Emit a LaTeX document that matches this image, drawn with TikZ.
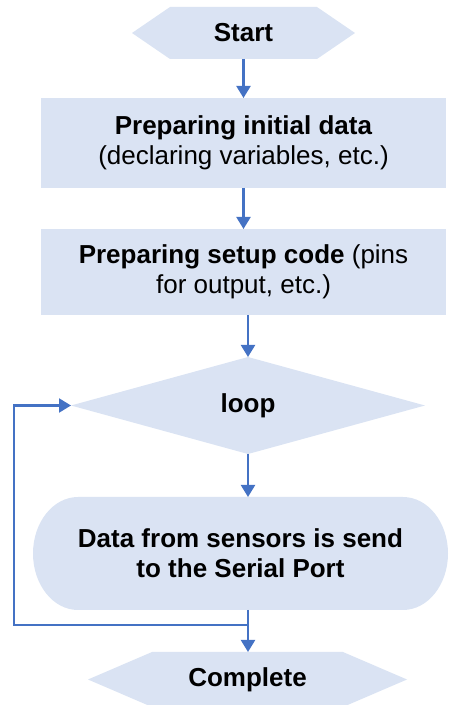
\documentclass[tikz,border=0pt]{standalone}
\usepackage{fontspec}
\setmainfont{Liberation Sans}
\usetikzlibrary{arrows.meta,backgrounds}
\definecolor{shapefill}{RGB}{218,227,243}
\definecolor{linkblue}{RGB}{68,114,196}
\begin{document}
\begin{tikzpicture}[x=1pt,y=1pt,
  txt/.style={font=\fontsize{26}{30}\selectfont, align=center, inner sep=0pt, outer sep=0pt, text=black},
  box/.style={txt, rectangle, fill=shapefill, minimum width=405pt},
  link/.style={draw=linkblue, line width=2.2pt, -{Triangle[width=14pt,length=12pt]}},
  bare/.style={draw=linkblue, line width=2.2pt}
]
\useasboundingbox (0,0) rectangle (450,705);

\node[txt, minimum width=223pt, minimum height=52pt] (start) at (243.5,672) {\textbf{Start}};
\node[box, minimum height=90pt] (prep) at (243.5,562) {\textbf{Preparing initial data}\\(declaring variables, etc.)};
\node[box, minimum height=86pt] (setup) at (243.5,433) {\textbf{Preparing setup code} (pins\\for output, etc.)};
\node[txt, minimum width=354pt, minimum height=97pt] (loop) at (248,299.5) {\textbf{loop}};
\node[txt, minimum width=415pt, minimum height=113pt] (data) at (240.5,151.5) {\textbf{Data from sensors is send}\\\textbf{to the Serial Port}};
\node[txt, minimum width=319pt, minimum height=55pt] (done) at (247.5,25.5) {\textbf{Complete}};

\begin{scope}[on background layer]
\fill[shapefill] (start.west) -- ([xshift=38pt]start.north west) -- ([xshift=-38pt]start.north east) -- (start.east) -- ([xshift=-38pt]start.south east) -- ([xshift=38pt]start.south west) -- cycle;
\fill[shapefill] (loop.west) -- (loop.north) -- (loop.east) -- (loop.south) -- cycle;
\fill[shapefill] ([xshift=45pt]data.north west) -- ([xshift=-45pt]data.north east)
  arc[start angle=90, end angle=-90, x radius=45pt, y radius=56.5pt]
  -- ([xshift=45pt]data.south west)
  arc[start angle=270, end angle=90, x radius=45pt, y radius=56.5pt] -- cycle;
\fill[shapefill] (done.west) -- ([xshift=64pt]done.north west) -- ([xshift=-64pt]done.north east) -- (done.east) -- ([xshift=-64pt]done.south east) -- ([xshift=64pt]done.south west) -- cycle;
\end{scope}

\coordinate (j) at (248,80);
\coordinate (lp) at (14,80);

\draw[link] (start.south) -- (prep.north);
\draw[link] (prep.south) -- (setup.north);
\draw[link] (setup.south -| loop.north) -- (loop.north);
\draw[link] (loop.south) -- (loop.south |- data.north);
\draw[link] (loop.south |- data.south) -- (loop.south |- done.north);
\draw[link] (j) -- (lp) |- (loop.west);
\end{tikzpicture}
\end{document}
